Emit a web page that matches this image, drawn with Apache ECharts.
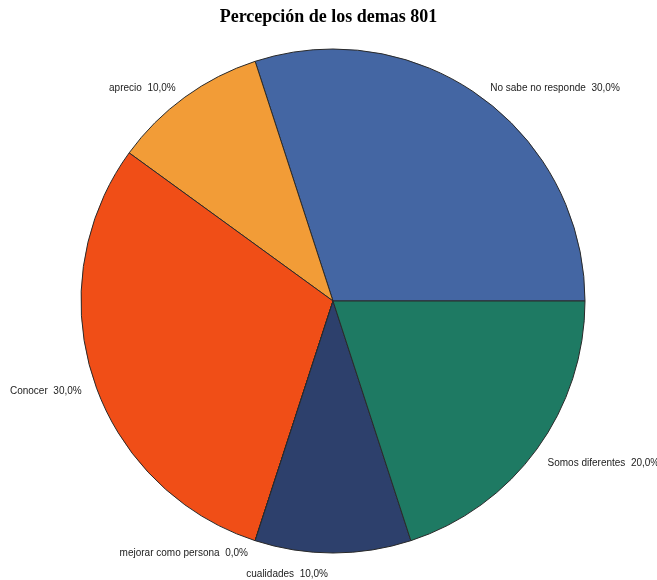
<!DOCTYPE html>
<html><head><meta charset="utf-8">
<script src="https://cdn.jsdelivr.net/npm/echarts@6/dist/echarts.min.js"></script>
<style>html,body{margin:0;padding:0;background:#fff}#c{width:657px;height:580px}</style>
</head><body><div id="c"></div>
<script>
const categories = ['No sabe no responde', 'aprecio', 'Conocer', 'mejorar como persona', 'cualidades', 'Somos diferentes'];
const values = [30, 10, 30, 0, 10, 20];
const colors = ['#4466a3', '#f29c37', '#f04e17', '#f04e17', '#2d406c', '#1e7a63'];
const title = 'Percepción de los demas 801';
const labelShiftY = [-3, -3, 10, 6, 14, 10];

const chart = echarts.init(document.getElementById('c'), null, {renderer: 'canvas'});
chart.setOption({
  backgroundColor: '#ffffff',
  animation: false,
  title: {
    text: title, left: 'center', top: 3,
    textStyle: {fontFamily: 'Liberation Serif', fontWeight: 'bold', fontSize: 18, color: '#000'}
  },
  series: [{
    type: 'pie',
    center: [333, 301],
    radius: [0, 252],
    startAngle: 0,
    clockwise: false,
    minAngle: 0,
    stillShowZeroSum: true,
    avoidLabelOverlap: false,
    itemStyle: {borderColor: '#2a2a2a', borderWidth: 1},
    label: {
      show: true, position: 'outside',
      fontFamily: 'Liberation Sans', fontSize: 10, color: '#222',
      formatter: p => p.name + '  ' + p.value.toFixed(1).replace('.', ',') + '%'
    },
    labelLine: {show: false, length: 7, length2: 0},
    labelLayout: p => ({dy: labelShiftY[p.dataIndex]}),
    emphasis: {disabled: true},
    data: categories.map((n, i) => ({name: n, value: values[i], itemStyle: {color: colors[i]}}))
  }]
});
</script></body></html>
